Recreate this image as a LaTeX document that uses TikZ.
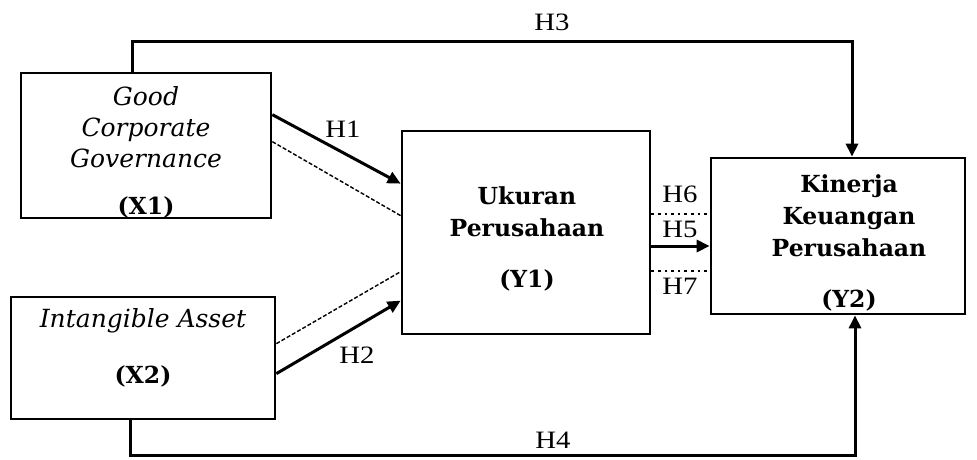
\documentclass[tikz,border=0pt]{standalone}
\usepackage{fontspec}
\setmainfont{DejaVu Serif}
\newfontfamily\hfont[FakeStretch=1.15]{Liberation Serif}
\usetikzlibrary{arrows.meta}
\begin{document}
\begin{tikzpicture}[x=1pt,y=-1pt,
  box/.style={draw, line width=2.7pt, inner sep=0pt},
  btext/.style={align=center, inner sep=0pt, font=\fontsize{25}{31}\selectfont},
  blabel/.style={inner sep=0pt, font=\fontsize{23.5}{31}\selectfont\bfseries},
  hlabel/.style={inner sep=0pt, font=\hfont\fontsize{25}{28}\selectfont},
  arr/.style={line width=3pt, -{Triangle[length=13pt,width=12pt]}},
  dashline/.style={line width=1.4pt, dash pattern=on 4pt off 2pt},
  dotline/.style={line width=2.6pt, dash pattern=on 2.6pt off 4pt}]
\useasboundingbox (0,0) rectangle (977,459);
% boxes
\node[box, minimum width=250pt, minimum height=145pt] (x1) at (146,145.5) {};
\node[box, minimum width=264pt, minimum height=122pt] (x2) at (143,358) {};
\node[box, minimum width=248pt, minimum height=203pt] (y1) at (526,232.5) {};
\node[box, minimum width=254pt, minimum height=156pt] (y2) at (838,236) {};
% texts
\node[btext] (x1t) at (146,127) {\itshape Good\\\itshape Corporate\\\itshape Governance};
\node[blabel] (x1l) at (146,207) {(X1)};
\node[btext] (x2t) at (143,321) {\itshape Intangible Asset};
\node[blabel] (x2l) at (143,376) {(X2)};
\node[btext, font=\fontsize{23.5}{32}\selectfont\bfseries] (y1t) at (527,212) {Ukuran\\Perusahaan};
\node[blabel] (y1l) at (527,280) {(Y1)};
\node[btext, font=\fontsize{23.5}{32}\selectfont\bfseries] (y2t) at (849,216) {Kinerja\\Keuangan\\Perusahaan};
\node[blabel] (y2l) at (849,300) {(Y2)};
% H1, H2
\draw[arr] ([yshift=-43pt]x1.north east) -- ([yshift=-54pt]y1.north west);
\draw[dashline] ([yshift=-70pt]x1.north east) -- ([yshift=-86pt]y1.north west);
\draw[arr] ([yshift=-78pt]x2.north east) -- ([yshift=-171pt]y1.north west);
\draw[dashline] ([yshift=-48pt]x2.north east) -- ([yshift=-142pt]y1.north west);
% H5, H6, H7
\coordinate (h6s) at ([yshift=18.5pt]y1.east);
\coordinate (h5s) at ([yshift=-13.5pt]y1.east);
\coordinate (h7s) at ([yshift=-38.5pt]y1.east);
\draw[dotline] (h6s) -- (h6s -| y2.west);
\draw[arr] (h5s) -- (h5s -| y2.west);
\draw[dotline] (h7s) -- (h7s -| y2.west);
% H3
\coordinate (h3a) at (132,41);
\coordinate (h3b) at (852,41);
\draw[arr] (x1.north -| h3a) -- (h3a) -- (h3b) -- (h3b |- y2.north);
% H4
\coordinate (h4a) at (130,455);
\coordinate (h4b) at (855,455);
\draw[arr] (x2.south -| h4a) -- (h4a) -- (h4b) -- (h4b |- y2.south);
% labels
\node[hlabel] (h1) at (343,129) {H1};
\node[hlabel] (h2) at (357,355) {H2};
\node[hlabel] (h3) at (552,22) {H3};
\node[hlabel] (h4) at (553,440) {H4};
\node[hlabel] (h6) at (680,194) {H6};
\node[hlabel] (h5) at (680,229) {H5};
\node[hlabel] (h7) at (680,286) {H7};
\end{tikzpicture}
\end{document}
